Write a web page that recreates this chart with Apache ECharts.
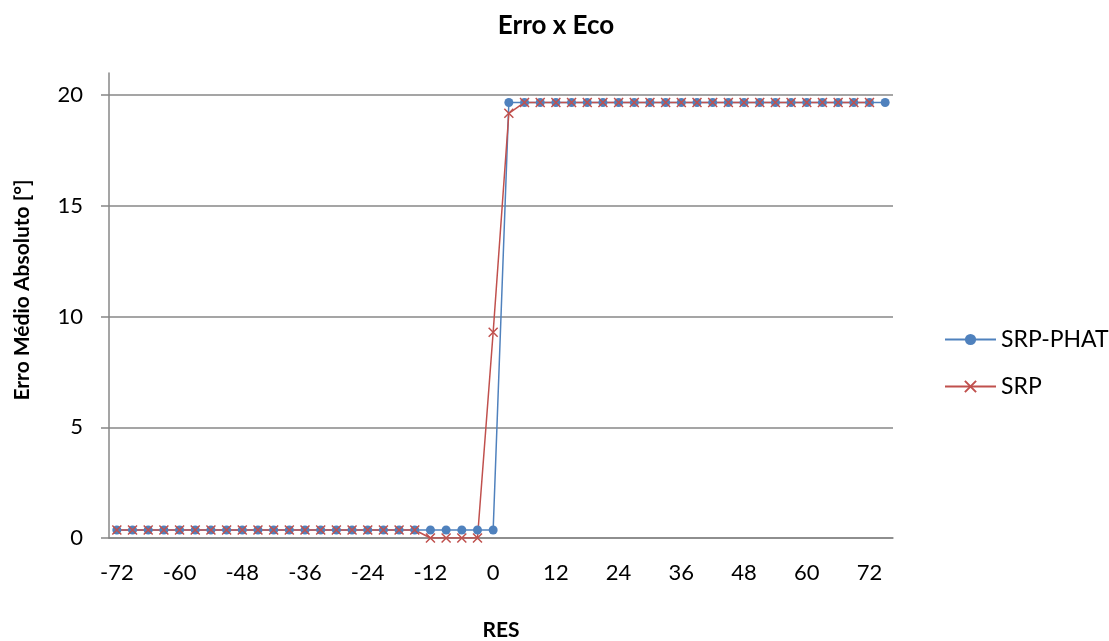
<!DOCTYPE html>
<html>
<head>
<meta charset="utf-8">
<script src="https://cdn.jsdelivr.net/npm/echarts@6/dist/echarts.min.js"></script>
<style>html,body{margin:0;padding:0;background:#fff}#c{width:1109px;height:641px}</style>
</head>
<body>
<div id="c"></div>
<script>
var categories = ['-72','-69','-66','-63','-60','-57','-54','-51','-48','-45','-42','-39','-36','-33','-30','-27','-24','-21','-18','-15','-12','-9','-6','-3','0','3','6','9','12','15','18','21','24','27','30','33','36','39','42','45','48','51','54','57','60','63','66','69','72','75'];
var srpPhat = [0.36,0.36,0.36,0.36,0.36,0.36,0.36,0.36,0.36,0.36,0.36,0.36,0.36,0.36,0.36,0.36,0.36,0.36,0.36,0.36,0.36,0.36,0.36,0.36,0.36,19.67,19.67,19.67,19.67,19.67,19.67,19.67,19.67,19.67,19.67,19.67,19.67,19.67,19.67,19.67,19.67,19.67,19.67,19.67,19.67,19.67,19.67,19.67,19.67,19.67];
var srp = [0.36,0.36,0.36,0.36,0.36,0.36,0.36,0.36,0.36,0.36,0.36,0.36,0.36,0.36,0.36,0.36,0.36,0.36,0.36,0.36,0,0,0,0,9.29,19.18,19.67,19.67,19.67,19.67,19.67,19.67,19.67,19.67,19.67,19.67,19.67,19.67,19.67,19.67,19.67,19.67,19.67,19.67,19.67,19.67,19.67,19.67,19.67,null];
var yTicks = [0,5,10,15,20];

var FONT = 'Lato';
var AX = '#878787';
var chart = echarts.init(document.getElementById('c'), null, {renderer:'canvas'});
chart.setOption({
  animation:false,
  backgroundColor:'#fff',
  textStyle:{fontFamily:FONT},
  title:{text:'Erro x Eco', left:551, textAlign:'center', top:8,
    textStyle:{fontFamily:FONT, fontWeight:'bold', fontSize:26, color:'#000'}},
  legend:{orient:'vertical', left:939, top:323, itemWidth:51, itemHeight:14, itemGap:24,
    textStyle:{fontFamily:FONT, fontSize:23, color:'#000'},
    data:['SRP-PHAT','SRP']},
  grid:{left:109, right:216, top:73, bottom:103, containLabel:false, outerBoundsMode:'none'},
  xAxis:{type:'category', data:categories, boundaryGap:true,
    name:'RES', nameLocation:'middle', nameGap:82,
    nameTextStyle:{fontFamily:FONT, fontWeight:'bold', fontSize:21, color:'#000'},
    axisLine:{lineStyle:{color:AX, width:1.5}},
    axisTick:{interval:3, length:8, lineStyle:{color:AX, width:1.5}},
    axisLabel:{interval:3, margin:24, fontFamily:FONT, fontSize:22, color:'#000'},
    splitLine:{show:false}},
  yAxis:{type:'value', min:0, max:21, interval:5,
    axisLine:{show:true, lineStyle:{color:AX, width:1.5}},
    axisTick:{show:true, length:8, customValues:yTicks, lineStyle:{color:AX, width:1.5}},
    axisLabel:{margin:26, customValues:yTicks, fontFamily:FONT, fontSize:22, color:'#000'},
    splitLine:{show:true, lineStyle:{color:AX, width:1.5}}},
  graphic:[{type:'text', x:22, y:290, rotation:Math.PI/2,
    style:{text:'Erro Médio Absoluto [°]', fontFamily:FONT, fontWeight:'bold', fontSize:21, fill:'#000',
      textAlign:'center', textVerticalAlign:'middle'}}],
  series:[
    {name:'SRP-PHAT', type:'line', data:srpPhat, symbol:'circle', symbolSize:9, showAllSymbol:true,
      lineStyle:{color:'#4F81BD', width:1.5}, itemStyle:{color:'#4F81BD'}},
    {name:'SRP', type:'line', data:srp, symbol:'path://M0,0L10,10M10,0L0,10', symbolSize:9, showAllSymbol:true,
      lineStyle:{color:'#C0504D', width:1.5},
      itemStyle:{color:'#C0504D', borderColor:'#C0504D', borderWidth:1.5}}
  ]
});
</script>
</body>
</html>
